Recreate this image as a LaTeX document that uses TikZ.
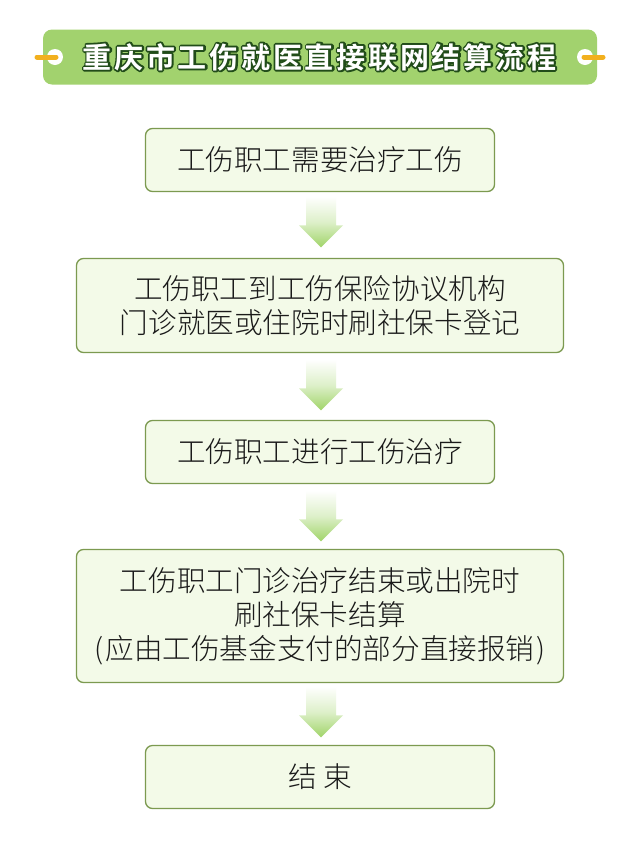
\documentclass[tikz,border=0pt]{standalone}
\usepackage{fontspec}
\setmainfont{Noto Sans CJK SC}
\newfontfamily\bodyfont{Noto Sans CJK SC Light}
\newfontfamily\titlefont{Noto Sans CJK SC Bold}
\usetikzlibrary{calc,shadings}
\definecolor{boxfill}{HTML}{F3FAE8}
\definecolor{boxline}{HTML}{7C9A50}
\definecolor{banner}{HTML}{A2D26E}
\definecolor{tagc}{HTML}{F2B01E}
\definecolor{arrowc}{HTML}{A0D468}
\definecolor{inkc}{HTML}{1A1A1A}
\newcommand{\outlined}[1]{\special{pdf:code q 2 Tr 1 j 3.6 w 0.13 0.30 0.10 RG}#1\special{pdf:code Q}}
% #1 = box below the arrow, #2 = gap from the tip to that box
\newcommand{\flowarrow}[2]{%
  \shade[top color=white,bottom color=arrowc,middle color=arrowc!35!white,shading angle=0]
    ($(#1.north)+(-14,-#2-51)$) -- ($(#1.north)+(16,-#2-51)$) -- ($(#1.north)+(16,-#2-22)$) --
    ($(#1.north)+(23,-#2-22)$) -- ($(#1.north)+(1,-#2)$) -- ($(#1.north)+(-21,-#2-22)$) --
    ($(#1.north)+(-14,-#2-22)$) -- cycle;}
\tikzset{
  flowbox/.style={draw=boxline,fill=boxfill,line width=1.3pt,rounded corners=7pt,
    align=center,inner sep=0pt,text=inkc,font=\fontsize{28.6}{34}\selectfont\bodyfont},
  narrow/.style={flowbox,minimum width=349pt},
  wide/.style={flowbox,minimum width=487pt}
}
\begin{document}
\begin{tikzpicture}[x=1pt,y=-1pt]
\useasboundingbox (0,0) rectangle (640,844);
\fill[white] (0,0) rectangle (640,844);
\node[fill=banner,rounded corners=9pt,minimum width=554pt,minimum height=55pt,inner sep=0pt] (banner) at (320,57) {};
\fill[white] (55,57) circle (8);
\fill[white] (585,57) circle (8);
\draw[tagc,line width=5pt,line cap=round] (37,57) -- (56,57);
\draw[tagc,line width=5pt,line cap=round] (584,57) -- (603,57);
\node[inner sep=0pt,text=white,font=\fontsize{29}{30}\selectfont\titlefont] (title) at (319.5,57)
  {\makebox[0pt][l]{\outlined{\addfontfeature{LetterSpace=9.5}重庆市工伤就医直接联网结算流程}}{\addfontfeature{LetterSpace=9.5}重庆市工伤就医直接联网结算流程}};
\node[narrow,minimum height=63pt] (b1) at (320,160) {工伤职工需要治疗工伤};
\node[wide,minimum height=94pt] (b2) at (320,305.5) {工伤职工到工伤保险协议机构\\门诊就医或住院时刷社保卡登记};
\node[narrow,minimum height=63pt] (b3) at (320,452) {工伤职工进行工伤治疗};
\node[wide,minimum height=133pt] (b4) at (320,616) {工伤职工门诊治疗结束或出院时\\刷社保卡结算\\(\kern2pt 应由工伤基金支付的部分直接报销\kern2pt)};
\node[narrow,minimum height=63pt] (b5) at (320,777) {结 束};
\flowarrow{b2}{10.5}
\flowarrow{b3}{9.5}
\flowarrow{b4}{7.5}
\flowarrow{b5}{7.5}
\end{tikzpicture}
\end{document}
